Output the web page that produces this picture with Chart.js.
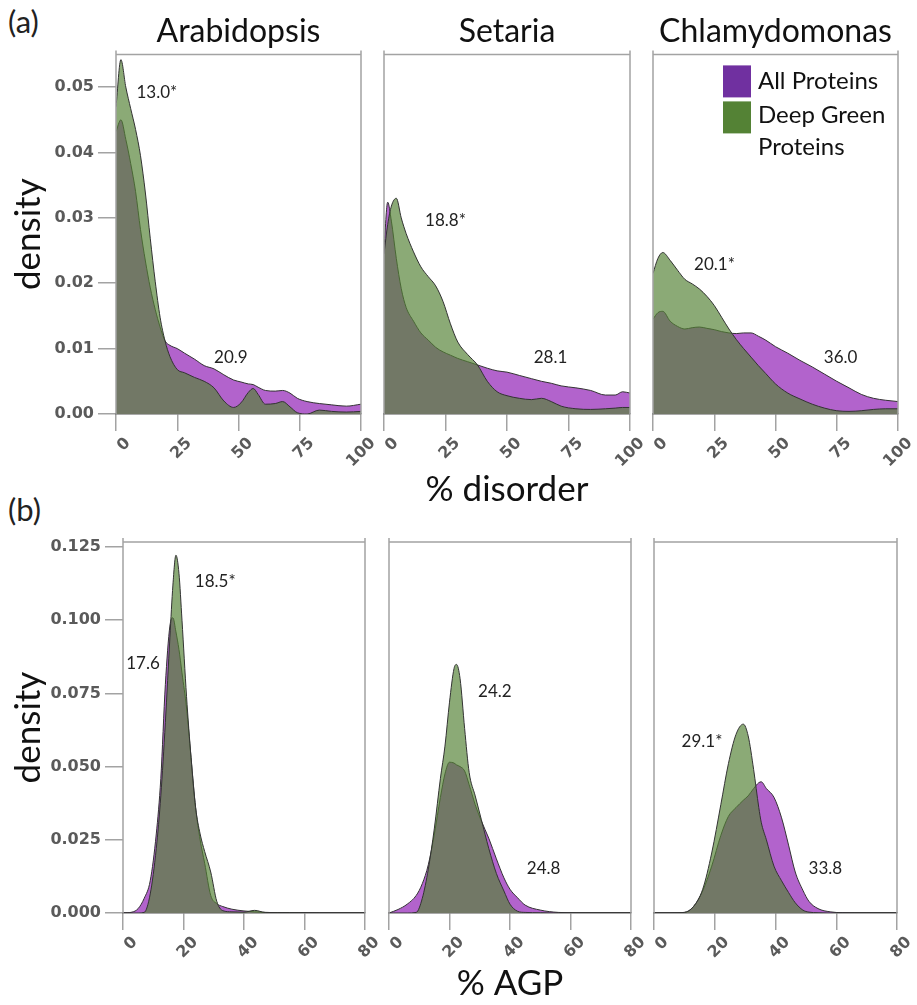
<!DOCTYPE html>
<html>
<head>
<meta charset="utf-8">
<script src="https://cdn.jsdelivr.net/npm/chart.js@4.4.1/dist/chart.umd.min.js"></script>
<style>
body { margin: 0; background: #fff; }
#wrap { position: relative; width: 917px; height: 1005px; overflow: hidden; font-family: Lato, sans-serif; }
canvas { position: absolute; }
.tag { position: absolute; font-size: 31px; color: #222; line-height: 1; }
</style>
</head>
<body>
<div id="wrap">
  <div class="tag" style="left:8px;top:6px">(a)</div>
  <div class="tag" style="left:8px;top:494px">(b)</div>
  <canvas id="a1"></canvas>
  <canvas id="a2"></canvas>
  <canvas id="a3"></canvas>
  <canvas id="b1"></canvas>
  <canvas id="b2"></canvas>
  <canvas id="b3"></canvas>
</div>
<script>

// DATA : % disorder

const araDisX    = [0, 2, 4, 6, 8, 10, 12, 14, 16, 18, 20, 22, 25, 28, 32, 36, 40, 44, 48, 51, 54, 56, 58, 61, 65, 68, 71, 74, 78, 83, 88, 94, 100];
const araDisAll  = [0.0432, 0.0450, 0.0420, 0.0383, 0.0340, 0.0282, 0.0234, 0.0193, 0.0160, 0.0133, 0.0112, 0.0105, 0.0100, 0.0093, 0.0084, 0.0074, 0.0069, 0.0060, 0.0052, 0.0049, 0.0046, 0.0045, 0.0041, 0.0036, 0.0035, 0.0036, 0.0032, 0.0024, 0.0019, 0.0016, 0.0014, 0.0012, 0.0015];
const araDisDeep = [0.0470, 0.0542, 0.0500, 0.0467, 0.0435, 0.0395, 0.0338, 0.0268, 0.0203, 0.0148, 0.0112, 0.0088, 0.0068, 0.0063, 0.0056, 0.0050, 0.0040, 0.0020, 0.0010, 0.0017, 0.0033, 0.0039, 0.0030, 0.0015, 0.0016, 0.0019, 0.0011, 0.0002, 0.0000, 0.0006, 0.0004, 0.0003, 0.0004];

const setDisX    = [0, 1.5, 3, 5, 7, 9, 12, 15, 18, 21, 24, 27, 30, 34, 38, 42, 46, 50, 55, 60, 64, 68, 72, 78, 84, 90, 94, 97, 100];
const setDisAll  = [0.0253, 0.0324, 0.0295, 0.0238, 0.0192, 0.0163, 0.0142, 0.0124, 0.0113, 0.0102, 0.0095, 0.0090, 0.0085, 0.0080, 0.0075, 0.0070, 0.0066, 0.0064, 0.0059, 0.0054, 0.0050, 0.0047, 0.0043, 0.0040, 0.0036, 0.0029, 0.0029, 0.0034, 0.0032];
const setDisDeep = [0.0245, 0.0290, 0.0318, 0.0330, 0.0300, 0.0276, 0.0248, 0.0225, 0.0210, 0.0196, 0.0172, 0.0138, 0.0110, 0.0091, 0.0075, 0.0050, 0.0034, 0.0028, 0.0024, 0.0022, 0.0024, 0.0019, 0.0012, 0.0008, 0.0007, 0.0008, 0.0009, 0.0010, 0.0010];

const chlDisX    = [0, 2, 4, 7, 10, 13, 16, 19, 22, 25, 28, 31, 34, 37, 40, 43, 46, 50, 55, 60, 65, 70, 75, 80, 85, 90, 95, 100];
const chlDisAll  = [0.0145, 0.0155, 0.0157, 0.0142, 0.0134, 0.0130, 0.0132, 0.0133, 0.0131, 0.0129, 0.0126, 0.0124, 0.0123, 0.0124, 0.0124, 0.0119, 0.0113, 0.0103, 0.0093, 0.0082, 0.0072, 0.0061, 0.0050, 0.0040, 0.0030, 0.0024, 0.0021, 0.0019];
const chlDisDeep = [0.0215, 0.0238, 0.0247, 0.0235, 0.0220, 0.0206, 0.0199, 0.0191, 0.0180, 0.0166, 0.0148, 0.0130, 0.0114, 0.0100, 0.0087, 0.0074, 0.0062, 0.0046, 0.0032, 0.0023, 0.0015, 0.0009, 0.0005, 0.0004, 0.0005, 0.0007, 0.0008, 0.0008];

// DATA : % AGP

const araAgpX    = [0, 3, 5, 7, 9, 11, 12.5, 14, 15.5, 16.5, 17.5, 18.5, 19.5, 21, 22.5, 24, 25.5, 27, 29, 31, 33, 36, 40, 43.5, 47, 55, 65, 80];
const araAgpAll  = [0, 0.0003, 0.0015, 0.0050, 0.0110, 0.0270, 0.0460, 0.0780, 0.0980, 0.1008, 0.0960, 0.0900, 0.0820, 0.0700, 0.0530, 0.0360, 0.0250, 0.0170, 0.0060, 0.0032, 0.0022, 0.0013, 0.0007, 0.0004, 0.0002, 0.0001, 0, 0];
const araAgpDeep = [0, 0, 0, 0.0002, 0.0065, 0.0220, 0.0400, 0.0650, 0.0940, 0.1120, 0.1222, 0.1160, 0.1000, 0.0740, 0.0530, 0.0360, 0.0270, 0.0210, 0.0140, 0.0040, 0.0008, 0.0004, 0.0003, 0.0009, 0.0002, 0.0001, 0, 0];

const setAgpX    = [0, 3, 6, 9, 11, 13, 15, 17, 18.5, 20, 21.5, 22.3, 23.5, 25, 26.5, 28.5, 30.5, 33, 35.5, 38, 40, 42.5, 45, 50, 56, 65, 80];
const setAgpAll  = [0, 0.0012, 0.0030, 0.0060, 0.0100, 0.0165, 0.0270, 0.0395, 0.0475, 0.0515, 0.0512, 0.0506, 0.0500, 0.0485, 0.0438, 0.0370, 0.0315, 0.0255, 0.0185, 0.0120, 0.0081, 0.0052, 0.0027, 0.0010, 0.0002, 0, 0];
const setAgpDeep = [0, 0, 0, 0.0002, 0.0050, 0.0150, 0.0290, 0.0460, 0.0570, 0.0720, 0.0835, 0.0849, 0.0800, 0.0630, 0.0480, 0.0400, 0.0320, 0.0220, 0.0135, 0.0075, 0.0030, 0.0006, 0.0002, 0.0001, 0, 0, 0];

const chlAgpX    = [0, 5, 10, 13, 16, 19, 22, 24.5, 27, 29.4, 31, 32.8, 34.5, 35.3, 37, 39.5, 42, 44.3, 46.5, 49, 51, 54, 58, 62, 70, 80];
const chlAgpAll  = [0, 0, 0.0002, 0.0022, 0.0075, 0.0160, 0.0265, 0.0330, 0.0360, 0.0385, 0.0400, 0.0425, 0.0445, 0.0448, 0.0425, 0.0395, 0.0325, 0.0232, 0.0140, 0.0078, 0.0040, 0.0015, 0.0004, 0.0001, 0, 0];
const chlAgpDeep = [0, 0, 0.0002, 0.0022, 0.0080, 0.0205, 0.0370, 0.0510, 0.0610, 0.0645, 0.0605, 0.0490, 0.0360, 0.0310, 0.0250, 0.0160, 0.0110, 0.0070, 0.0035, 0.0010, 0.0003, 0.0001, 0, 0, 0, 0];

// mean values written next to the curves (data coords)
const araDisNotes = [{ x: 16.7, y: 0.0492, t: "13.0*" }, { x: 46.9, y: 0.0087, t: "20.9" }];
const setDisNotes = [{ x: 25.0, y: 0.0296, t: "18.8*" }, { x: 67.7, y: 0.0087, t: "28.1" }];
const chlDisNotes = [{ x: 25.1, y: 0.0228, t: "20.1*" }, { x: 76.6, y: 0.0087, t: "36.0" }];
const araAgpNotes = [{ x: 30.5, y: 0.1133, t: "18.5*" }, { x: 6.6, y: 0.0851, t: "17.6" }];
const setAgpNotes = [{ x: 35.0, y: 0.0758, t: "24.2" }, { x: 51.1, y: 0.0153, t: "24.8" }];
const chlAgpNotes = [{ x: 15.8, y: 0.0587, t: "29.1*" }, { x: 56.4, y: 0.0153, t: "33.8" }];

const seriesNames = ["All Proteins", "Deep Green Proteins"];
const legendLines = [["All Proteins"], ["Deep Green", "Proteins"]];


// STYLE

const allFill = "#b263cc";
const deepFill = "rgba(84,130,53,0.68)";
const allKey = "#7030a0";
const deepKey = "#548235";
const outline = "#333";
const frameGrey = "#a3a3a3";
const tickFont = { family: "DejaVu Sans", size: 16, weight: "bold" };
const tickColor = "#5a5a5a";
const axisTitleFont = { family: "Lato", size: 35 };


// PLUGINS

const framePlugin = {
    id: "frame",
    afterDatasetsDraw(chart) {
        const a = chart.chartArea;
        const ctx = chart.ctx;
        ctx.save();
        ctx.strokeStyle = frameGrey;
        ctx.lineWidth = 1.5;
        ctx.beginPath();
        ctx.moveTo(a.left, a.bottom);
        ctx.lineTo(a.left, a.top - 4);
        ctx.moveTo(a.left, a.top);
        ctx.lineTo(a.right, a.top);
        ctx.moveTo(a.right, a.top - 4);
        ctx.lineTo(a.right, a.bottom);
        ctx.stroke();
        ctx.restore();
    }
};

const notesPlugin = {
    id: "notes",
    afterDatasetsDraw(chart, args, opts) {
        const ctx = chart.ctx;
        ctx.save();
        ctx.font = "17px Lato";
        ctx.fillStyle = "#222";
        ctx.textAlign = "center";
        ctx.textBaseline = "middle";
        (opts.items || []).forEach(n => {
            ctx.fillText(n.t, chart.scales.x.getPixelForValue(n.x), chart.scales.y.getPixelForValue(n.y));
        });
        ctx.restore();
    }
};

const keyPlugin = {
    id: "key",
    afterDraw(chart, args, opts) {
        if (!opts.show) return;
        const a = chart.chartArea;
        const ctx = chart.ctx;
        const colors = [allKey, deepKey];
        const x0 = a.right - 175;
        ctx.save();
        ctx.font = "24px Lato";
        ctx.textBaseline = "middle";
        legendLines.forEach((lines, i) => {
            ctx.fillStyle = colors[i];
            ctx.fillRect(x0, a.top + 11 + i * 36, 28, 32);
            ctx.fillStyle = "#111";
            lines.forEach((txt, j) => {
                ctx.fillText(txt, x0 + 35, a.top + 27 + i * 34 + j * 32);
            });
        });
        ctx.restore();
    }
};


// BUILD ONE PANEL

function makePanel(p) {

    const L = p.showY ? p.plot[0] : 24;
    const R = 24;
    const T = p.title ? p.plot[1] : 20;
    const B = p.bottom;

    const canvas = document.getElementById(p.id);
    canvas.width = L + p.plot[2] + R;
    canvas.height = T + p.plot[3] + B;
    canvas.style.left = (p.plot[0] - L) + "px";
    canvas.style.top = (p.plot[1] - T) + "px";

    const pts = ys => p.x.map((v, i) => ({ x: v, y: ys[i] }));

    const line = {
        pointRadius: 0,
        borderWidth: 1,
        borderColor: outline,
        fill: "origin",
        cubicInterpolationMode: "monotone"
    };

    new Chart(canvas, {
        type: "line",
        data: {
            datasets: [
                Object.assign({ label: seriesNames[1], data: pts(p.deep), backgroundColor: deepFill }, line),
                Object.assign({ label: seriesNames[0], data: pts(p.all), backgroundColor: allFill }, line)
            ]
        },
        options: {
            responsive: false,
            animation: false,
            events: [],
            layout: { padding: { top: p.title ? 0 : T, right: R, left: 0, bottom: 0 } },
            plugins: {
                legend: { display: false },
                tooltip: { enabled: false },
                title: {
                    display: !!p.title,
                    text: p.title,
                    fullSize: false,
                    color: "#111",
                    font: { family: "Lato", size: 32, weight: "normal" },
                    padding: { top: 12, bottom: 4 }
                },
                notes: { items: p.notes },
                key: { show: !!p.key }
            },
            scales: {
                x: {
                    type: "linear",
                    min: 0,
                    max: p.xMax,
                    z: 1,
                    afterFit: s => { s.height = B; },
                    grid: { drawOnChartArea: false, tickLength: 17, color: frameGrey, lineWidth: 1.5 },
                    border: { color: "#555", width: 1.5 },
                    ticks: {
                        stepSize: p.xStep,
                        minRotation: 45,
                        maxRotation: 45,
                        autoSkip: false,
                        labelOffset: 12,
                        padding: 3,
                        font: tickFont,
                        color: tickColor
                    },
                    title: {
                        display: !!p.xTitle,
                        text: p.xTitle,
                        color: "#111",
                        font: axisTitleFont,
                        padding: { top: 0, bottom: p.xTitlePad }
                    }
                },
                y: {
                    min: 0,
                    max: p.yMax,
                    afterFit: s => { s.width = L; },
                    grid: { display: p.showY, drawOnChartArea: false, tickLength: 18, color: frameGrey, lineWidth: 1.5 },
                    border: { display: false },
                    ticks: {
                        display: p.showY,
                        stepSize: p.yStep,
                        includeBounds: false,
                        padding: 4,
                        font: tickFont,
                        color: tickColor,
                        callback: v => v.toFixed(p.yDigits)
                    },
                    title: {
                        display: p.showY,
                        text: "density",
                        color: "#111",
                        font: axisTitleFont,
                        padding: { top: 8 }
                    }
                }
            }
        },
        plugins: [framePlugin, notesPlugin, keyPlugin]
    });

}


// PANELS

const rowA = { bottom: 100, xMax: 100, xStep: 25, yMax: 0.055, yStep: 0.01, yDigits: 2, xTitlePad: 3 };
const rowB = { bottom: 92, xMax: 80, xStep: 20, yMax: 0.1267, yStep: 0.025, yDigits: 3, xTitlePad: 0 };

makePanel(Object.assign({}, rowA, { id: "a1", plot: [116, 52, 245, 362], showY: true, title: "Arabidopsis", x: araDisX, all: araDisAll, deep: araDisDeep, notes: araDisNotes }));
makePanel(Object.assign({}, rowA, { id: "a2", plot: [384, 52, 246, 362], showY: false, title: "Setaria", xTitle: "% disorder", x: setDisX, all: setDisAll, deep: setDisDeep, notes: setDisNotes }));
makePanel(Object.assign({}, rowA, { id: "a3", plot: [653, 52, 245, 362], showY: false, title: "Chlamydomonas", key: true, x: chlDisX, all: chlDisAll, deep: chlDisDeep, notes: chlDisNotes }));

makePanel(Object.assign({}, rowB, { id: "b1", plot: [123, 542, 242, 371], showY: true, x: araAgpX, all: araAgpAll, deep: araAgpDeep, notes: araAgpNotes }));
makePanel(Object.assign({}, rowB, { id: "b2", plot: [389, 542, 242, 371], showY: false, xTitle: "% AGP", x: setAgpX, all: setAgpAll, deep: setAgpDeep, notes: setAgpNotes }));
makePanel(Object.assign({}, rowB, { id: "b3", plot: [654, 542, 243, 371], showY: false, x: chlAgpX, all: chlAgpAll, deep: chlAgpDeep, notes: chlAgpNotes }));

</script>
</body>
</html>
